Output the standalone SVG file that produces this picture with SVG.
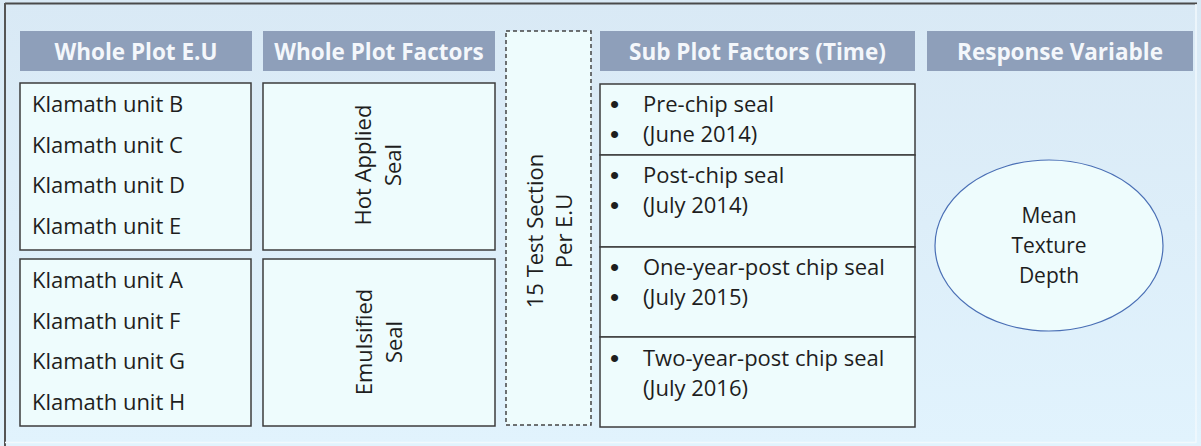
<svg xmlns="http://www.w3.org/2000/svg" width="1201" height="446" viewBox="0 0 1201 446">
<defs>
<linearGradient id="bg" x1="0" y1="0" x2="0" y2="1">
<stop offset="0" stop-color="#d9e9f5"/>
<stop offset="1" stop-color="#e1f3fd"/>
</linearGradient>
</defs>
<style>
.hdr{fill:#8e9fba}
.hdrt{font-family:"Open Sans","Liberation Sans",sans-serif;font-weight:bold;font-size:22.5px;fill:#f4f7fb;text-anchor:middle}
.box{fill:#eefcfd;stroke:#3c3c3c;stroke-width:1.5}
.dash{fill:#eefcfd;stroke:#444;stroke-width:1.5;stroke-dasharray:4 3}
.t{font-family:"Open Sans","Liberation Sans",sans-serif;font-size:22px;fill:#1e1e1e}
.b{font-family:"Liberation Sans",sans-serif;font-size:26px;fill:#1e1e1e}
.c{text-anchor:middle}
.ell{fill:#eefcfd;stroke:#4a6fb5;stroke-width:1.2}
</style>
<rect x="0" y="0" width="1201" height="446" fill="url(#bg)"/>
<g id="frame">
<line x1="5" y1="3.5" x2="1197" y2="3.5" stroke="#4a4a4a" stroke-width="2"/>
<line x1="5" y1="3" x2="5" y2="446" stroke="#555" stroke-width="2"/>
<line x1="1196" y1="4" x2="1196" y2="443" stroke="#f2f9fd" stroke-width="1.5"/>
<line x1="5" y1="442.5" x2="1196" y2="442.5" stroke="#f2f9fd" stroke-width="1.5"/>
</g>
<g id="hdr-eu">
<rect class="hdr" x="20" y="31" width="232" height="40"/>
<text class="hdrt" x="136" y="60">Whole Plot E.U</text>
</g>
<g id="hdr-wpf">
<rect class="hdr" x="263" y="31" width="232" height="40"/>
<text class="hdrt" x="379" y="60">Whole Plot Factors</text>
</g>
<g id="hdr-spf">
<rect class="hdr" x="600" y="31" width="315" height="40"/>
<text class="hdrt" x="757.5" y="60">Sub Plot Factors (Time)</text>
</g>
<g id="hdr-rv">
<rect class="hdr" x="927" y="31" width="266" height="40"/>
<text class="hdrt" x="1060" y="60">Response Variable</text>
</g>
<g id="eu-hot">
<rect class="box" x="20" y="83" width="231" height="167"/>
<text class="t" x="32" y="112">Klamath unit B</text>
<text class="t" x="32" y="153">Klamath unit C</text>
<text class="t" x="32" y="193">Klamath unit D</text>
<text class="t" x="32" y="234">Klamath unit E</text>
</g>
<g id="eu-emul">
<rect class="box" x="20" y="259" width="231" height="167"/>
<text class="t" x="32" y="288">Klamath unit A</text>
<text class="t" x="32" y="328.5">Klamath unit F</text>
<text class="t" x="32" y="369">Klamath unit G</text>
<text class="t" x="32" y="410">Klamath unit H</text>
</g>
<g id="wpf-hot">
<rect class="box" x="263" y="83" width="232" height="167"/>
<text class="t c" transform="translate(371,165) rotate(-90)" x="0" y="0">Hot Applied</text>
<text class="t c" transform="translate(401,165) rotate(-90)" x="0" y="0">Seal</text>
</g>
<g id="wpf-emul">
<rect class="box" x="263" y="259" width="232" height="167"/>
<text class="t c" transform="translate(372,342) rotate(-90)" x="0" y="0">Emulsified</text>
<text class="t c" transform="translate(402,342) rotate(-90)" x="0" y="0">Seal</text>
</g>
<g id="test-section">
<rect class="dash" x="506" y="31" width="85" height="394"/>
<text class="t c" transform="translate(543,231) rotate(-90)" x="0" y="0">15 Test Section</text>
<text class="t c" transform="translate(572,231) rotate(-90)" x="0" y="0">Per E.U</text>
</g>
<g id="spf-1">
<rect class="box" x="600" y="84" width="315" height="71"/>
<text class="b" x="610" y="113">•</text>
<text class="t" x="643" y="112">Pre-chip seal</text>
<text class="b" x="610" y="143">•</text>
<text class="t" x="643" y="142">(June 2014)</text>
</g>
<g id="spf-2">
<rect class="box" x="600" y="155" width="315" height="92"/>
<text class="b" x="610" y="184">•</text>
<text class="t" x="643" y="183">Post-chip seal</text>
<text class="b" x="610" y="214">•</text>
<text class="t" x="643" y="213">(July 2014)</text>
</g>
<g id="spf-3">
<rect class="box" x="600" y="247" width="315" height="90"/>
<text class="b" x="610" y="276">•</text>
<text class="t" x="643" y="275">One-year-post chip seal</text>
<text class="b" x="610" y="306">•</text>
<text class="t" x="643" y="305">(July 2015)</text>
</g>
<g id="spf-4">
<rect class="box" x="600" y="337" width="315" height="90"/>
<text class="b" x="610" y="367">•</text>
<text class="t" x="643" y="366">Two-year-post chip seal</text>
<text class="t" x="643" y="396">(July 2016)</text>
</g>
<g id="response">
<ellipse class="ell" cx="1049" cy="245.5" rx="114" ry="85.5"/>
<text class="t c" style="font-size:21px" x="1049" y="223">Mean</text>
<text class="t c" style="font-size:21px" x="1049" y="253">Texture</text>
<text class="t c" style="font-size:21px" x="1049" y="283">Depth</text>
</g>
<g id="connectors"></g>
</svg>
